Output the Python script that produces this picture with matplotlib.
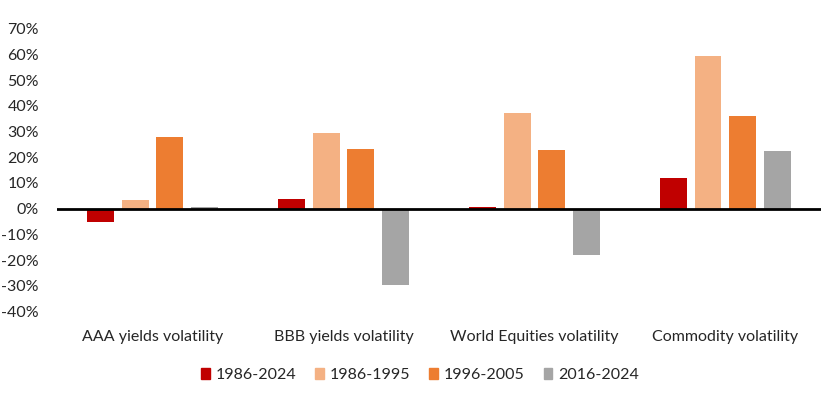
import matplotlib

matplotlib.use("Agg")
import matplotlib.pyplot as plt
import numpy as np
from matplotlib.patches import Patch

plt.rcParams["font.family"] = ["Lato", "DejaVu Sans"]
plt.rcParams["axes.unicode_minus"] = False

CATEGORIES = ["AAA yields volatility", "BBB yields volatility",
              "World Equities volatility", "Commodity volatility"]
PERIODS = ["1986-2024", "1986-1995", "1996-2005", "2016-2024"]
P_1986_2024 = [-5.1, 3.8, 0.6, 11.9]
P_1986_1995 = [3.4, 29.4, 37.2, 59.4]
P_1996_2005 = [27.9, 23.2, 22.8, 36.0]
P_2016_2024 = [0.6, -29.7, -18.0, 22.4]
Y_TICKS = [-40, -30, -20, -10, 0, 10, 20, 30, 40, 50, 60, 70]

COLORS = ["#C00000", "#F4B183", "#ED7D31", "#A5A5A5"]
INK = "#262626"


def main():
    series = [P_1986_2024, P_1986_1995, P_1996_2005, P_2016_2024]
    x = np.arange(len(CATEGORIES))
    step, width = 0.182, 0.141

    fig = plt.figure(figsize=(8.3, 3.93), dpi=100)
    ax = fig.add_axes([0.0687, 0.2074, 0.9203, 0.7196])

    for i, (vals, col) in enumerate(zip(series, COLORS)):
        ax.bar(x + (i - 1.5) * step, vals, width=width, color=col, zorder=2)

    ax.axhline(0, color="black", lw=2, zorder=3)
    ax.set_xlim(-0.5, 3.5)
    ax.set_ylim(-40, 70)
    ax.set_yticks(Y_TICKS)
    ax.set_yticklabels([f"{t}%" for t in Y_TICKS], fontsize=11.5, color=INK)
    ax.set_xticks(x)
    ax.set_xticklabels(CATEGORIES, fontsize=11.5, color=INK)
    ax.tick_params(axis="y", length=0, pad=13)
    ax.tick_params(axis="x", length=0, pad=13)
    for s in ax.spines.values():
        s.set_visible(False)

    handles = [Patch(color=c, label=p) for c, p in zip(COLORS, PERIODS)]
    fig.legend(handles=handles, loc="center", bbox_to_anchor=(0.506, 0.046),
               ncol=4, frameon=False, fontsize=11.5, handlelength=0.55,
               handleheight=0.7, handletextpad=0.35, columnspacing=1.2,
               labelcolor=INK)

    fig.savefig("out.png", facecolor="white")


if __name__ == "__main__":
    main()
